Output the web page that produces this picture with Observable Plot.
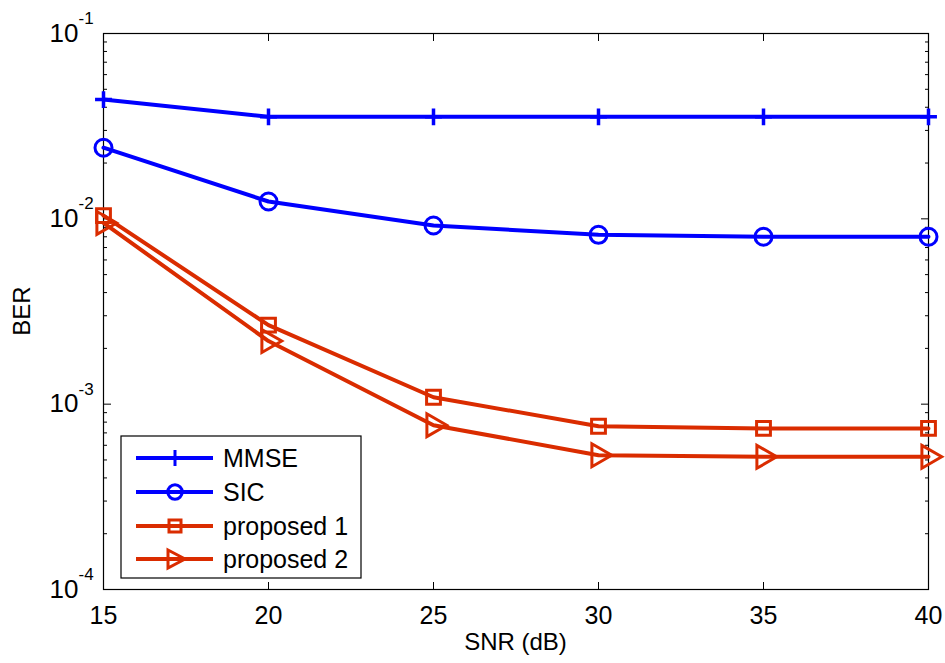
<!DOCTYPE html>
<html><head><meta charset="utf-8">
<script src="https://cdn.jsdelivr.net/npm/d3@7"></script>
<script src="https://cdn.jsdelivr.net/npm/@observablehq/plot@0.6"></script>
<style>body{margin:0;background:#fff;font-family:Arial,"Liberation Sans",sans-serif}#c{position:relative;width:945px;height:663px}</style>
</head><body><div id="c"></div>
<script>
const snr = [15, 20, 25, 30, 35, 40];
const mmse = [0.044, 0.0355, 0.0355, 0.0355, 0.0355, 0.0355];
const sic = [0.0242, 0.0124, 0.0092, 0.0082, 0.0080, 0.0080];
const prop1 = [0.0104, 0.00267, 0.00109, 0.00076, 0.00074, 0.00074];
const prop2 = [0.0095, 0.00219, 0.00077, 0.00053, 0.00052, 0.00052];
const seriesNames = ["MMSE", "SIC", "proposed 1", "proposed 2"];
const seriesColors = ["#0000ff", "#0000ff", "#da2c00", "#da2c00"];
const seriesSymbols = ["plus", "circle", "square", "triangle"];
const xTicks = [15, 20, 25, 30, 35, 40];
const yMajor = [1e-4, 1e-3, 1e-2, 1e-1];
const yExpLabels = ["-4", "-3", "-2", "-1"];

const allSeries = [mmse, sic, prop1, prop2];
const rows = [];
allSeries.forEach((vals, i) => vals.forEach((v, j) => rows.push({snr: snr[j], ber: v, s: seriesNames[i], k: i})));
const yMinor = [];
for (let e = -4; e < -1; e++) for (let m = 2; m <= 9; m++) yMinor.push(m * Math.pow(10, e));
const expRows = yMajor.map((v, i) => ({v, t: yExpLabels[i]}));
const xRows = xTicks.map(v => ({v}));

const W = 945, H = 663, ML = 103, MR = 17, MT = 33, MB = 74;
const fs = "Arial, 'Liberation Sans', sans-serif";
const blank = () => "";
const markersFor = (i) => {
  const d = rows.filter(r => r.k === i);
  const base = {x: "snr", y: "ber", stroke: seriesColors[i], strokeWidth: 3, fill: "none", symbol: seriesSymbols[i]};
  if (i === 0) return Plot.dot(d, {...base, r: 5.5, strokeWidth: 3.5});
  if (i === 1) return Plot.dot(d, {...base, r: 8.5});
  if (i === 2) return Plot.dot(d, {...base, r: 7.8});
  return Plot.dot(d, {...base, r: 8.5, rotate: 90});
};
const plot = Plot.plot({
  width: W, height: H, marginLeft: ML, marginRight: MR, marginTop: MT, marginBottom: MB,
  style: {fontFamily: fs, background: "#fff"},
  x: {domain: [15, 40], ticks: xTicks},
  y: {type: "log", domain: [1e-4, 1e-1]},
  marks: [
    Plot.frame({stroke: "#000", strokeWidth: 1.2}),
    Plot.axisX({ticks: xTicks, tickSize: -7, tickFormat: blank, anchor: "bottom", label: null}),
    Plot.axisX({ticks: xTicks, tickSize: -7, tickFormat: blank, anchor: "top", label: null}),
    Plot.axisY({ticks: yMajor, tickSize: -8, tickFormat: blank, anchor: "left", label: null}),
    Plot.axisY({ticks: yMinor, tickSize: -4, tickFormat: blank, anchor: "left", label: null}),
    Plot.axisY({ticks: yMajor, tickSize: -8, tickFormat: blank, anchor: "right", label: null}),
    Plot.axisY({ticks: yMinor, tickSize: -4, tickFormat: blank, anchor: "right", label: null}),
    Plot.text(xRows, {x: "v", y: 1e-4, text: d => String(d.v), fontSize: 25, dy: 26, fill: "#000"}),
    Plot.text(expRows, {x: 15, y: "v", text: () => "10", fontSize: 26, textAnchor: "end", dx: -25, dy: 0, fill: "#000"}),
    Plot.text(expRows, {x: 15, y: "v", text: "t", fontSize: 17, textAnchor: "start", dx: -25, dy: -15, fill: "#000"}),
    Plot.line(rows, {x: "snr", y: "ber", z: "s", stroke: d => seriesColors[d.k], strokeWidth: 4, strokeLinejoin: "round"}),
    ...seriesNames.map((_, i) => markersFor(i))
  ]
});
document.getElementById("c").appendChild(plot);

const svg = d3.select(plot);
svg.append("text").attr("transform", `translate(30,${(MT + H - MB) / 2}) rotate(-90)`).attr("text-anchor", "middle")
  .attr("font-size", 24).attr("font-family", fs).attr("fill", "#000").text("BER");
svg.append("text").attr("x", ML + (W - ML - MR) / 2).attr("y", 650).attr("text-anchor", "middle")
  .attr("font-size", 24).attr("font-family", fs).attr("fill", "#000").text("SNR (dB)");

// legend
const lg = svg.append("g").attr("text-anchor", "start");
lg.append("rect").attr("x", 121).attr("y", 436).attr("width", 240).attr("height", 142).attr("fill", "#fff").attr("stroke", "#000").attr("stroke-width", 1.2);
const ys = [458, 492, 526, 559];
seriesNames.forEach((n, i) => {
  lg.append("line").attr("x1", 136).attr("x2", 213).attr("y1", ys[i]).attr("y2", ys[i]).attr("stroke", seriesColors[i]).attr("stroke-width", 4);
  let p;
  if (i === 0) p = "M-7,0H7M0,-8V8";
  else if (i === 1) p = d3.symbol(d3.symbolCircle, Math.PI * 7.2 * 7.2)();
  else if (i === 2) p = "M-6,-6H6V6H-6Z";
  else p = "M-7,-9L10,0L-7,9Z";
  lg.append("path").attr("d", p).attr("transform", `translate(175,${ys[i]})`).attr("fill", "none").attr("stroke", seriesColors[i]).attr("stroke-width", 3);
  lg.append("text").attr("x", 223).attr("y", ys[i]).attr("dy", "0.35em").attr("text-anchor", "start").attr("font-size", 25).attr("font-family", fs).attr("fill", "#000").text(n);
});
</script></body></html>
